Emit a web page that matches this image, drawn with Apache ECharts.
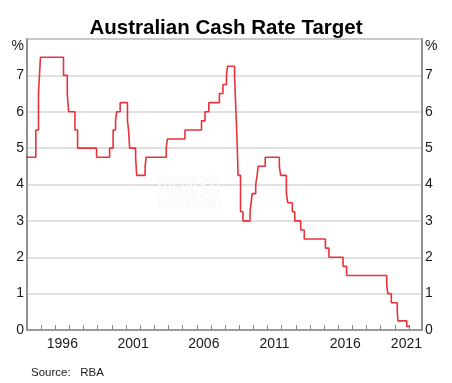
<!DOCTYPE html>
<html>
<head>
<meta charset="utf-8">
<script src="https://cdn.jsdelivr.net/npm/echarts@6/dist/echarts.min.js"></script>
<style>
html,body{margin:0;padding:0;background:#fff;}
#chart{width:452px;height:383px;}
</style>
</head>
<body>
<div id="chart"></div>
<script>
// Cash rate target changes (date of change, new rate %)
const changeDates = [
  "1993-07-30","1994-08-17","1994-10-24","1994-12-14","1996-07-31","1996-11-06","1996-12-11",
  "1997-05-23","1997-07-30","1998-12-02","1999-11-03","2000-02-02","2000-04-05","2000-05-03",
  "2000-08-02","2001-02-07","2001-03-07","2001-04-04","2001-09-05","2001-09-19","2001-10-03",
  "2002-05-08","2002-06-05","2003-11-05","2003-12-03","2005-03-02","2006-05-03","2006-08-02",
  "2006-11-08","2007-08-08","2007-11-07","2008-02-06","2008-03-05","2008-09-03","2008-10-08",
  "2008-11-05","2008-12-03","2009-02-04","2009-04-08","2009-10-07","2009-11-04","2009-12-02",
  "2010-03-03","2010-04-07","2010-05-05","2010-11-03","2011-11-02","2011-12-07","2012-05-02",
  "2012-06-06","2012-10-03","2012-12-05","2013-05-08","2013-08-07","2015-02-04","2015-05-06",
  "2016-05-04","2016-08-03","2019-06-05","2019-07-03","2019-10-02","2020-03-04","2020-03-20",
  "2020-11-04","2021-01-15"
];
const cashRates = [
  4.75,5.50,6.50,7.50,7.00,6.50,6.00,
  5.50,5.00,4.75,5.00,5.50,5.75,6.00,
  6.25,5.75,5.50,5.00,4.75,4.50,4.25,
  4.50,4.75,5.00,5.25,5.50,5.75,6.00,
  6.25,6.50,6.75,7.00,7.25,7.00,6.00,
  5.25,4.25,3.25,3.00,3.25,3.50,3.75,
  4.00,4.25,4.50,4.75,4.50,4.25,3.75,
  3.50,3.25,3.00,2.75,2.50,2.25,2.00,
  1.75,1.50,1.25,1.00,0.75,0.50,0.25,
  0.10,0.10
];
const xLabelYears = [1996, 2001, 2006, 2011, 2016, 2021];
const yTopLabel = "%";
const xMin = 1994, xMax = 2021.92;

function toYear(s) {
  const [y, m, d] = s.split("-").map(Number);
  const start = Date.UTC(y, 0, 1), end = Date.UTC(y + 1, 0, 1);
  return y + (Date.UTC(y, m - 1, d) - start) / (end - start);
}
const seriesData = changeDates.map((d, i) => [toYear(d), cashRates[i]]);

// label positions: middle of each labelled year, last one at the axis end
const labelValues = xLabelYears.map((y, i) => i === xLabelYears.length - 1 ? xMax : y + 0.5);

const axisGray = '#8a8a8a';
const textCol = '#1a1a1a';
const font = 'Liberation Sans, Arial, sans-serif';

const yAxisCommon = {
  type: 'value', min: 0, max: 8, interval: 1,
  axisLine: { show: true, lineStyle: { color: axisGray, width: 1.5 } },
  axisTick: { show: false },
  axisLabel: {
    fontSize: 14, color: textCol, fontFamily: font, margin: 3,
    verticalAlignMaxLabel: 'top',
    formatter: v => v === 8 ? yTopLabel : String(v)
  }
};

const chart = echarts.init(document.getElementById('chart'));
chart.setOption({
  animation: false,
  backgroundColor: '#fff',
  title: [
    { text: 'Australian Cash Rate Target', left: 'center', top: 13,
      textStyle: { fontSize: 20.5, fontWeight: 'bold', color: '#000', fontFamily: font } },
    { text: 'Source:   RBA', left: 26, top: 362,
      textStyle: { fontSize: 11.5, fontWeight: 'normal', color: '#222', fontFamily: font } }
  ],
  grid: { left: 27, right: 30, top: 39, bottom: 53, show: true, borderColor: axisGray, borderWidth: 1.5, backgroundColor: 'transparent' },
  xAxis: {
    type: 'value', min: xMin, max: xMax, interval: 1,
    axisLine: { show: true, onZero: false, lineStyle: { color: axisGray, width: 1.5 } },
    axisTick: { show: true, inside: true, length: 5, lineStyle: { color: axisGray, width: 1 } },
    splitLine: { show: false },
    axisLabel: {
      customValues: labelValues,
      alignMaxLabel: 'right',
      fontSize: 14, color: textCol, fontFamily: font, margin: 7,
      formatter: v => String(Math.floor(v))
    }
  },
  yAxis: [
    Object.assign({}, yAxisCommon, { position: 'left',
      splitLine: { show: true, lineStyle: { color: '#d6d6d6', width: 1.5 } } }),
    Object.assign({}, yAxisCommon, { position: 'right', splitLine: { show: false } })
  ],
  graphic: [
    { type: 'text', left: 155, top: 174, z: 100, silent: true,
      style: { text: '海那边', font: '22px "Noto Sans CJK SC"', fill: 'rgba(255,255,255,0.8)', stroke: 'rgba(210,210,210,0.25)', lineWidth: 1 } },
    { type: 'text', left: 158, top: 195, z: 100, silent: true,
      style: { text: 'Hinabian', font: '16px Liberation Sans, Arial, sans-serif', fill: 'rgba(255,255,255,0.8)', stroke: 'rgba(210,210,210,0.25)', lineWidth: 1 } }
  ],
  series: [{
    type: 'line', step: 'end', data: seriesData, showSymbol: false, symbol: 'none',
    clip: true, yAxisIndex: 0,
    lineStyle: { color: '#e8323a', width: 1.6 }
  }]
});
</script>
</body>
</html>
